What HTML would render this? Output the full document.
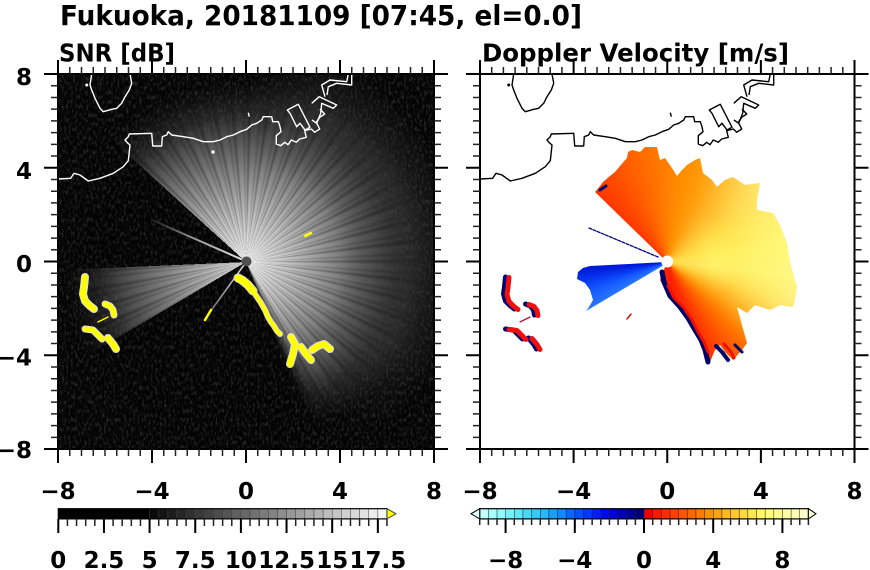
<!DOCTYPE html>
<html><head><meta charset="utf-8">
<style>
html,body{margin:0;padding:0;background:#fff;}
body{width:870px;height:570px;position:relative;overflow:hidden;}
.abs{position:absolute;left:0;top:0;}
.box{position:absolute;overflow:hidden;}
.lay{position:absolute;left:0;top:0;width:100%;height:100%;}
text{font-family:"DejaVu Sans","Liberation Sans",sans-serif;font-weight:bold;fill:#000;}
</style></head><body>

<svg class="abs" width="870" height="570">
<defs>
<filter id="nz" filterUnits="userSpaceOnUse" x="58" y="74" width="376" height="375" color-interpolation-filters="sRGB">
<feTurbulence type="fractalNoise" baseFrequency="0.45 0.22" numOctaves="2" seed="5"/>
<feColorMatrix type="matrix" values="0 0 0 0 0.32  0 0 0 0 0.32  0 0 0 0 0.32  1.3 0 0 0 -0.6"/>
</filter>
</defs>
<rect x="58" y="74" width="376" height="375" fill="#040404"/>
<rect x="58" y="74" width="376" height="375" filter="url(#nz)"/>
</svg>

<!-- SNR fan -->
<div class="box" style="left:58px;top:74px;width:376px;height:375px;">
 <div class="lay" style="background:
   radial-gradient(circle 185px at 188px 188px, rgb(250,250,250) 0px, rgb(235,235,235) 12px, rgb(205,205,205) 35px, rgb(165,165,165) 65px, rgb(125,125,125) 95px, rgba(95,95,95,.85) 125px, rgba(70,70,70,.5) 150px, rgba(55,55,55,.2) 170px, rgba(40,40,40,0) 185px);
   -webkit-mask-image:conic-gradient(from 0deg at 188px 188px, #000 0deg 149deg, rgba(0,0,0,.5) 155deg, transparent 159deg 239.5deg, rgba(0,0,0,.9) 239.5deg 267.5deg, transparent 267.5deg 312.3deg, #000 312.3deg 360deg);
   mask-image:conic-gradient(from 0deg at 188px 188px, #000 0deg 149deg, rgba(0,0,0,.5) 155deg, transparent 159deg 239.5deg, rgba(0,0,0,.9) 239.5deg 267.5deg, transparent 267.5deg 312.3deg, #000 312.3deg 360deg);"></div>
 <div class="lay" style="background:radial-gradient(circle 220px at 188px 188px, rgba(70,70,70,0) 95px, rgba(75,75,75,.35) 125px, rgba(65,65,65,.5) 165px, rgba(50,50,50,.3) 195px, rgba(40,40,40,0) 220px);
   -webkit-mask-image:conic-gradient(from 0deg at 188px 188px, transparent 0deg, #000 25deg 120deg, transparent 150deg 360deg);
   mask-image:conic-gradient(from 0deg at 188px 188px, transparent 0deg, #000 25deg 120deg, transparent 150deg 360deg);"></div>
 <div class="lay" style="background:repeating-conic-gradient(from 0deg at 188px 188px, rgba(0,0,0,0) 0deg, rgba(0,0,0,.28) 1.3deg, rgba(0,0,0,0) 2.6deg, rgba(0,0,0,0) 4.4deg, rgba(0,0,0,.16) 5.6deg, rgba(0,0,0,0) 6.8deg);
   -webkit-mask-image:radial-gradient(circle 190px at 188px 188px, #000 0px, #000 140px, transparent 190px);
   mask-image:radial-gradient(circle 190px at 188px 188px, #000 0px, #000 140px, transparent 190px);"></div>
</div>

<!-- Doppler field -->
<div class="box" style="left:480px;top:74px;width:375px;height:375px;">
 <div class="lay" style="background:conic-gradient(from 0deg at 187.25px 188px, #ff8000 0deg, #ff9000 12deg, #ffa010 25deg, #ffb828 38deg, #ffd040 52deg, #ffe450 66deg, #fff060 82deg, #fff068 96deg, #ffe050 106deg, #ffc030 116deg, #ff9c10 126deg, #ff7400 136deg, #ff5000 146deg, #ff3000 156deg, #ff2000 166deg, #ff2000 295deg, #ff3000 310deg, #ff4800 325deg, #ff6000 340deg, #ff7400 352deg, #ff8000 360deg);
  clip-path:polygon(187px 188px, 115px 118px, 120px 112px, 123px 108px, 130px 102px, 135px 98px, 140px 92px, 147px 84px, 148px 78px, 152px 76px, 160px 78px, 165px 73px, 177px 73px, 180px 86px, 185px 84px, 192px 94px, 197px 102px, 202px 96px, 207px 91px, 215px 86px, 220px 84px, 223px 99px, 232px 106px, 237px 113px, 245px 106px, 253px 103px, 265px 111px, 280px 109px, 277px 126px, 277px 136px, 293px 139px, 300px 151px, 307px 169px, 310px 188px, 317px 213px, 315px 226px, 313px 233px, 300px 231px, 290px 236px, 275px 231px, 267px 239px, 257px 233px, 262px 251px, 267px 269px, 262px 276px, 253px 286px, 245px 278px, 240px 271px, 235px 276px, 230px 288px, 228px 288px, 226px 271px, 220px 263px, 213px 253px, 203px 236px, 190px 223px, 180px 206px);"></div>
 <div class="lay" style="background:radial-gradient(circle 150px at 187.25px 188px, rgba(255,150,0,.3) 0px, rgba(255,200,60,0) 45px, rgba(255,255,140,0) 65px, rgba(255,255,150,.45) 115px, rgba(255,255,190,.6) 150px);
  -webkit-mask-image:conic-gradient(from 0deg at 187.25px 188px, transparent 0deg 20deg, #000 50deg 110deg, transparent 135deg 360deg);
  mask-image:conic-gradient(from 0deg at 187.25px 188px, transparent 0deg 20deg, #000 50deg 110deg, transparent 135deg 360deg);
  clip-path:polygon(187px 188px, 115px 118px, 120px 112px, 123px 108px, 130px 102px, 135px 98px, 140px 92px, 147px 84px, 148px 78px, 152px 76px, 160px 78px, 165px 73px, 177px 73px, 180px 86px, 185px 84px, 192px 94px, 197px 102px, 202px 96px, 207px 91px, 215px 86px, 220px 84px, 223px 99px, 232px 106px, 237px 113px, 245px 106px, 253px 103px, 265px 111px, 280px 109px, 277px 126px, 277px 136px, 293px 139px, 300px 151px, 307px 169px, 310px 188px, 317px 213px, 315px 226px, 313px 233px, 300px 231px, 290px 236px, 275px 231px, 267px 239px, 257px 233px, 262px 251px, 267px 269px, 262px 276px, 253px 286px, 245px 278px, 240px 271px, 235px 276px, 230px 288px, 228px 288px, 226px 271px, 220px 263px, 213px 253px, 203px 236px, 190px 223px, 180px 206px);"></div>
 <div class="lay" style="background:conic-gradient(from 0deg at 186px 189px, #2a78ff 0deg 238deg, #1458ff 250deg, #0838f0 258deg, #0018d8 266deg 360deg);
  clip-path:polygon(186px 188px, 110px 192px, 103px 194px, 98px 198px, 97px 205px, 105px 209px, 110px 216px, 113px 226px, 109px 233px, 106px 237px, 184px 191px);"></div>
</div>

<svg class="abs" width="870" height="570">
<defs>
 <linearGradient id="tl1" gradientUnits="userSpaceOnUse" x1="246.5" y1="261.5" x2="152" y2="220">
  <stop offset="0" stop-color="#e8e8e8"/><stop offset="0.6" stop-color="#909090"/><stop offset="1" stop-color="#606060" stop-opacity="0.3"/>
 </linearGradient>
 <linearGradient id="tl2" gradientUnits="userSpaceOnUse" x1="246.5" y1="261.5" x2="210" y2="312">
  <stop offset="0" stop-color="#e0e0e0"/><stop offset="1" stop-color="#707070"/>
 </linearGradient>
</defs>
<line x1="246.5" y1="261.5" x2="152" y2="220" stroke="url(#tl1)" stroke-width="2"/>
<line x1="246.5" y1="261.5" x2="210" y2="312" stroke="url(#tl2)" stroke-width="1.5"/>

<!-- SNR clutter -->
<g fill="none" stroke-linecap="round" stroke-linejoin="round">
 <g stroke="#dcdcdc">
  <path d="M238,278 L242,280 248,285 253,291" stroke-width="9"/>
  <path d="M253,291 L257,297 261,303 265,310 268,317 271,322 274,326 277,331 280,334" stroke-width="6"/>
  <path d="M291,337 L295,344 293,354 290,364" stroke-width="8"/>
  <path d="M301,347 L306,354 311,360" stroke-width="8"/>
  <path d="M312,350 L318,346 324,344 330,349" stroke-width="8"/>
  <path d="M85,277 L84,287 83,294 85,301 90,306 94,309" stroke-width="8"/>
  <path d="M105,304 L110,306 113,310 114,315" stroke-width="7"/>
  <path d="M85,329 L93,330 98,335 102,339" stroke-width="7"/>
  <path d="M108,338 L113,344 116,349" stroke-width="8"/>
 </g>
 <g stroke="#ffff00">
  <path d="M238,278 L242,280 248,285 253,291" stroke-width="7"/>
  <path d="M253,291 L257,297 261,303 265,310 268,317 271,322 274,326 277,331 280,334" stroke-width="4"/>
  <path d="M291,337 L295,344 293,354 290,364" stroke-width="6"/>
  <path d="M301,347 L306,354 311,360" stroke-width="6"/>
  <path d="M312,350 L318,346 324,344 330,349" stroke-width="6"/>
  <path d="M85,277 L84,287 83,294 85,301 90,306 94,309" stroke-width="6"/>
  <path d="M105,304 L110,306 113,310 114,315" stroke-width="5"/>
  <path d="M98,322 L108,317" stroke-width="1.5"/>
  <path d="M85,329 L93,330 98,335 102,339" stroke-width="5"/>
  <path d="M108,338 L113,344 116,349" stroke-width="6"/>
  <path d="M305,236 L311,233" stroke-width="2.5"/>
  <path d="M205,320 L211,310" stroke-width="2.5"/>
 </g>
</g>
<circle cx="246.5" cy="261.5" r="5" fill="#505050"/>

<!-- Doppler extras -->
<g fill="none" stroke-linecap="round" stroke-linejoin="round">
 <path d="M662,272 L664,282 670,296 680,307 688,318 695,330 701,340 705,350 708,362" stroke="#00006a" stroke-width="5"/>
 <path d="M716,346 L722,352 728,360" stroke="#00006a" stroke-width="4"/>
 <path d="M735,345 L742,352" stroke="#00006a" stroke-width="3"/>
 <path d="M600,190 L606,186" stroke="#00006a" stroke-width="3"/>
 <path d="M668,286 L674,298 684,308 692,320 698,332 704,342 708,352" stroke="#f01000" stroke-width="3"/>
 <path d="M724,344 L731,352 734,358" stroke="#f01000" stroke-width="3"/>
 <path d="M658,257 L589,228" stroke="#000080" stroke-width="1.3" stroke-dasharray="3 1.5"/>
 <path d="M627,319 L631,314" stroke="#e01010" stroke-width="1.5"/>
 <g stroke="#000070" stroke-width="5" transform="translate(-1.5,0)">
  <path d="M507,277 L506,287 505,294 507,301 512,306 516,309"/>
  <path d="M527,304 L532,306 535,310 536,315"/>
  <path d="M507,329 L515,330 520,335 524,339"/>
  <path d="M530,338 L535,344 538,349"/>
 </g>
 <g stroke="#f01010" stroke-width="5" transform="translate(2,0.5)">
  <path d="M507,277 L506,287 505,294 507,301 512,306 516,309"/>
  <path d="M527,304 L532,306 535,310 536,315"/>
  <path d="M507,329 L515,330 520,335 524,339"/>
  <path d="M530,338 L535,344 538,349"/>
 </g>
 <path d="M520,322 L530,317" stroke="#c01030" stroke-width="1.3"/>
</g>
<circle cx="667.25" cy="261.5" r="6" fill="#fff"/>

<!-- coastlines -->
<g fill="none" stroke-width="1.4" stroke-linejoin="round">
 <g stroke="#fff" transform="translate(58,74)">
  <path d="M33.7,0 L32,11 33.7,16 37,24.3 42,34.3 45.3,37.7 53.7,35.3 58.7,34.3 63.7,29.3 67,22.7 71.3,16 73.7,9.3 72,0"/>
  <path d="M0,105 L12.7,104.3 16,99.3 22,101 30.3,107 42,104.3 55.3,99.3 65.3,92.7 70.3,86.7 71.3,77.7 72,71 69.3,68.7 67,66 70.3,62.7 71.3,60 93.7,59.3 94.7,72 103.7,72 104.3,62.7 108.7,61 110.3,57.7 113.7,61 125.3,62.7 135.3,64.3 145.3,67.7 155.3,67.7 162,66 168.7,62.7 175.3,61 182,57.7 188.7,55.3 193.7,51 198.7,49.3 203.7,46 205.3,42.7 213.7,42.7 214.7,47.7 220.3,47.7 222,52.7 223,57.7 218.3,61.7 218.3,70 222.7,71.7 226.7,68.3 230,70.7 233.3,66 238.3,68.3 241.7,65 248.3,63.3 246.7,56.7 253.3,55 256.7,58.3 261.7,55 258.3,48.3 261.7,43.3 266.7,40 262,35"/>
  <path d="M229.3,36 L240.3,30.3 252,53.3 247,56 242,49.3 238.7,52.7 232,39.3 Z"/>
  <path d="M253.7,29.3 L261.3,22.7 278.7,31 275.3,34.3 263.7,29.3 262.7,39.3 258.7,49.3 254,46"/>
  <path d="M267,22.7 L263.7,11 272,6 288.7,7.7 290.3,0 293.7,0 293.7,11 278.7,9.3 270.3,12.7 269,21"/>
  <path d="M190.3,38.7 L191.3,42.7"/>
  <circle cx="28.7" cy="11" r="0.8" fill="#fff"/>
  <circle cx="155" cy="78" r="1" fill="#fff"/>
 </g>
 <g stroke="#000" transform="translate(480,74)">
  <path d="M33.7,0 L32,11 33.7,16 37,24.3 42,34.3 45.3,37.7 53.7,35.3 58.7,34.3 63.7,29.3 67,22.7 71.3,16 73.7,9.3 72,0"/>
  <path d="M0,105 L12.7,104.3 16,99.3 22,101 30.3,107 42,104.3 55.3,99.3 65.3,92.7 70.3,86.7 71.3,77.7 72,71 69.3,68.7 67,66 70.3,62.7 71.3,60 93.7,59.3 94.7,72 103.7,72 104.3,62.7 108.7,61 110.3,57.7 113.7,61 125.3,62.7 135.3,64.3 145.3,67.7 155.3,67.7 162,66 168.7,62.7 175.3,61 182,57.7 188.7,55.3 193.7,51 198.7,49.3 203.7,46 205.3,42.7 213.7,42.7 214.7,47.7 220.3,47.7 222,52.7 223,57.7 218.3,61.7 218.3,70 222.7,71.7 226.7,68.3 230,70.7 233.3,66 238.3,68.3 241.7,65 248.3,63.3 246.7,56.7 253.3,55 256.7,58.3 261.7,55 258.3,48.3 261.7,43.3 266.7,40 262,35"/>
  <path d="M229.3,36 L240.3,30.3 252,53.3 247,56 242,49.3 238.7,52.7 232,39.3 Z"/>
  <path d="M253.7,29.3 L261.3,22.7 278.7,31 275.3,34.3 263.7,29.3 262.7,39.3 258.7,49.3 254,46"/>
  <path d="M267,22.7 L263.7,11 272,6 288.7,7.7 290.3,0 293.7,0 293.7,11 278.7,9.3 270.3,12.7 269,21"/>
  <path d="M190.3,38.7 L191.3,42.7"/>
  <circle cx="28.7" cy="11" r="0.8" fill="#000"/>
 </g>
</g>

<!-- axes left -->
<g stroke="#000" fill="none">
 <rect x="58" y="74" width="376" height="375" stroke-width="2"/>
 <g stroke="#222" stroke-width="7">
  <line x1="57.25" y1="70.5" x2="435" y2="70.5" stroke-dasharray="1.5 10.25"/>
  <line x1="57.25" y1="452.5" x2="435" y2="452.5" stroke-dasharray="1.5 10.25"/>
  <line x1="54.5" y1="73.25" x2="54.5" y2="450" stroke-dasharray="1.5 10.22"/>
  <line x1="437.5" y1="73.25" x2="437.5" y2="450" stroke-dasharray="1.5 10.22"/>
 </g>
 <g stroke-width="14">
  <line x1="57" y1="67" x2="436" y2="67" stroke-dasharray="2 92"/>
  <line x1="57" y1="456" x2="436" y2="456" stroke-dasharray="2 92"/>
  <line x1="51" y1="73" x2="51" y2="451" stroke-dasharray="2 91.75"/>
  <line x1="441" y1="73" x2="441" y2="451" stroke-dasharray="2 91.75"/>
 </g>
</g>
<!-- axes right -->
<g stroke="#000" fill="none">
 <rect x="480" y="74" width="374.5" height="375" stroke-width="2"/>
 <g stroke="#222" stroke-width="7">
  <line x1="479.25" y1="70.5" x2="855.5" y2="70.5" stroke-dasharray="1.5 10.203"/>
  <line x1="479.25" y1="452.5" x2="855.5" y2="452.5" stroke-dasharray="1.5 10.203"/>
  <line x1="476.5" y1="73.25" x2="476.5" y2="450" stroke-dasharray="1.5 10.22"/>
  <line x1="858" y1="73.25" x2="858" y2="450" stroke-dasharray="1.5 10.22"/>
 </g>
 <g stroke-width="14">
  <line x1="479" y1="67" x2="856" y2="67" stroke-dasharray="2 91.625"/>
  <line x1="479" y1="456" x2="856" y2="456" stroke-dasharray="2 91.625"/>
  <line x1="473" y1="73" x2="473" y2="451" stroke-dasharray="2 91.75"/>
  <line x1="861.5" y1="73" x2="861.5" y2="451" stroke-dasharray="2 91.75"/>
 </g>
</g>

<!-- left colorbar -->
<g>
 <rect x="58.3" y="508.7" width="91.5" height="10.2" fill="#000"/>
 <g stroke="#444" stroke-width="0.5">
 <rect x="149.61" y="508.7" width="9.2" height="10.2" fill="#0a0a0a"/>
 <rect x="158.74" y="508.7" width="9.2" height="10.2" fill="#131313"/>
 <rect x="167.87" y="508.7" width="9.2" height="10.2" fill="#1d1d1d"/>
 <rect x="177.0" y="508.7" width="9.2" height="10.2" fill="#262626"/>
 <rect x="186.13" y="508.7" width="9.2" height="10.2" fill="#303030"/>
 <rect x="195.27" y="508.7" width="9.2" height="10.2" fill="#393939"/>
 <rect x="204.4" y="508.7" width="9.2" height="10.2" fill="#424242"/>
 <rect x="213.53" y="508.7" width="9.2" height="10.2" fill="#4c4c4c"/>
 <rect x="222.66" y="508.7" width="9.2" height="10.2" fill="#555555"/>
 <rect x="231.79" y="508.7" width="9.2" height="10.2" fill="#5f5f5f"/>
 <rect x="240.92" y="508.7" width="9.2" height="10.2" fill="#686868"/>
 <rect x="250.05" y="508.7" width="9.2" height="10.2" fill="#717171"/>
 <rect x="259.18" y="508.7" width="9.2" height="10.2" fill="#7b7b7b"/>
 <rect x="268.31" y="508.7" width="9.2" height="10.2" fill="#848484"/>
 <rect x="277.44" y="508.7" width="9.2" height="10.2" fill="#8e8e8e"/>
 <rect x="286.58" y="508.7" width="9.2" height="10.2" fill="#979797"/>
 <rect x="295.71" y="508.7" width="9.2" height="10.2" fill="#a0a0a0"/>
 <rect x="304.84" y="508.7" width="9.2" height="10.2" fill="#aaaaaa"/>
 <rect x="313.97" y="508.7" width="9.2" height="10.2" fill="#b3b3b3"/>
 <rect x="323.1" y="508.7" width="9.2" height="10.2" fill="#bdbdbd"/>
 <rect x="332.23" y="508.7" width="9.2" height="10.2" fill="#c6c6c6"/>
 <rect x="341.36" y="508.7" width="9.2" height="10.2" fill="#cfcfcf"/>
 <rect x="350.49" y="508.7" width="9.2" height="10.2" fill="#d9d9d9"/>
 <rect x="359.62" y="508.7" width="9.2" height="10.2" fill="#e2e2e2"/>
 <rect x="368.75" y="508.7" width="9.2" height="10.2" fill="#ececec"/>
 <rect x="377.88" y="508.7" width="9.12" height="10.2" fill="#f5f5f5"/>
 </g>
 <rect x="58.3" y="508.7" width="328.7" height="10.2" fill="none" stroke="#000" stroke-width="1.2"/>
 <polygon points="387,508.7 396,513.8 387,518.9" fill="#ffff00" stroke="#444" stroke-width="1"/>
 <line x1="57.55" y1="522.5" x2="388" y2="522.5" stroke="#222" stroke-width="7" stroke-dasharray="1.5 7.63"/>
 <line x1="57.3" y1="526" x2="380" y2="526" stroke="#000" stroke-width="14" stroke-dasharray="2 43.65"/>
</g>

<!-- right colorbar -->
<g>
 <g stroke="#222" stroke-width="0.5">
 <rect x="479.7" y="508.7" width="8.8" height="10.2" fill="#c8ffff"/>
 <rect x="488.35" y="508.7" width="8.8" height="10.2" fill="#a8ffff"/>
 <rect x="497.0" y="508.7" width="8.8" height="10.2" fill="#90f8ff"/>
 <rect x="505.65" y="508.7" width="8.8" height="10.2" fill="#78f0f8"/>
 <rect x="514.3" y="508.7" width="8.8" height="10.2" fill="#60e8f8"/>
 <rect x="522.95" y="508.7" width="8.8" height="10.2" fill="#48d8f8"/>
 <rect x="531.6" y="508.7" width="8.8" height="10.2" fill="#38c8f8"/>
 <rect x="540.25" y="508.7" width="8.8" height="10.2" fill="#28b8ff"/>
 <rect x="548.9" y="508.7" width="8.8" height="10.2" fill="#18a0ff"/>
 <rect x="557.55" y="508.7" width="8.8" height="10.2" fill="#1088ff"/>
 <rect x="566.2" y="508.7" width="8.8" height="10.2" fill="#0868ff"/>
 <rect x="574.85" y="508.7" width="8.8" height="10.2" fill="#0050ff"/>
 <rect x="583.5" y="508.7" width="8.8" height="10.2" fill="#0038ff"/>
 <rect x="592.15" y="508.7" width="8.8" height="10.2" fill="#0020ff"/>
 <rect x="600.8" y="508.7" width="8.8" height="10.2" fill="#0008f0"/>
 <rect x="609.45" y="508.7" width="8.8" height="10.2" fill="#0000d8"/>
 <rect x="618.1" y="508.7" width="8.8" height="10.2" fill="#0000b8"/>
 <rect x="626.75" y="508.7" width="8.8" height="10.2" fill="#000098"/>
 <rect x="635.4" y="508.7" width="8.8" height="10.2" fill="#000070"/>
 <rect x="644.05" y="508.7" width="8.8" height="10.2" fill="#f00000"/>
 <rect x="652.7" y="508.7" width="8.8" height="10.2" fill="#ff1800"/>
 <rect x="661.35" y="508.7" width="8.8" height="10.2" fill="#ff2c00"/>
 <rect x="670.0" y="508.7" width="8.8" height="10.2" fill="#ff4000"/>
 <rect x="678.65" y="508.7" width="8.8" height="10.2" fill="#ff5400"/>
 <rect x="687.3" y="508.7" width="8.8" height="10.2" fill="#ff6800"/>
 <rect x="695.95" y="508.7" width="8.8" height="10.2" fill="#ff7c00"/>
 <rect x="704.6" y="508.7" width="8.8" height="10.2" fill="#ff9000"/>
 <rect x="713.25" y="508.7" width="8.8" height="10.2" fill="#ffa410"/>
 <rect x="721.9" y="508.7" width="8.8" height="10.2" fill="#ffb820"/>
 <rect x="730.55" y="508.7" width="8.8" height="10.2" fill="#ffc830"/>
 <rect x="739.2" y="508.7" width="8.8" height="10.2" fill="#ffd840"/>
 <rect x="747.85" y="508.7" width="8.8" height="10.2" fill="#ffe850"/>
 <rect x="756.5" y="508.7" width="8.8" height="10.2" fill="#fff860"/>
 <rect x="765.15" y="508.7" width="8.8" height="10.2" fill="#ffff78"/>
 <rect x="773.8" y="508.7" width="8.8" height="10.2" fill="#ffff90"/>
 <rect x="782.45" y="508.7" width="8.8" height="10.2" fill="#ffffa4"/>
 <rect x="791.1" y="508.7" width="8.8" height="10.2" fill="#ffffb8"/>
 <rect x="799.75" y="508.7" width="8.65" height="10.2" fill="#ffffcc"/>
 </g>
 <rect x="479.7" y="508.7" width="328.7" height="10.2" fill="none" stroke="#000" stroke-width="1.2"/>
 <polygon points="479.7,508.7 471,513.8 479.7,518.9" fill="#e0ffff" stroke="#000" stroke-width="1"/>
 <polygon points="808.4,508.7 816,513.8 808.4,518.9" fill="#ffffe0" stroke="#000" stroke-width="1"/>
 <line x1="478.95" y1="522" x2="809.5" y2="522" stroke="#222" stroke-width="6" stroke-dasharray="1.5 7.15"/>
 <line x1="504.6" y1="526" x2="784" y2="526" stroke="#000" stroke-width="14" stroke-dasharray="2 67.2"/>
</g>

<!-- text -->
<text x="60" y="25" font-size="28" textLength="522" lengthAdjust="spacingAndGlyphs">Fukuoka, 20181109 [07:45, el=0.0]</text>
<text x="59" y="61.5" font-size="24.5" textLength="116" lengthAdjust="spacingAndGlyphs">SNR [dB]</text>
<text x="482" y="61.5" font-size="24.5" textLength="307" lengthAdjust="spacingAndGlyphs">Doppler Velocity [m/s]</text>

<g font-size="23" text-anchor="end">
 <text x="32" y="85">8</text>
 <text x="32" y="179">4</text>
 <text x="32" y="272">0</text>
 <text x="32" y="365.5">−4</text>
 <text x="32" y="458">−8</text>
</g>
<g font-size="23" text-anchor="middle">
 <text x="58" y="499">−8</text>
 <text x="152" y="499">−4</text>
 <text x="246" y="499">0</text>
 <text x="340" y="499">4</text>
 <text x="434" y="499">8</text>
 <text x="480" y="499">−8</text>
 <text x="573.6" y="499">−4</text>
 <text x="667.25" y="499">0</text>
 <text x="760.9" y="499">4</text>
 <text x="854.5" y="499">8</text>

 <text x="58.3" y="568">0</text>
 <text x="103.95" y="568">2.5</text>
 <text x="149.6" y="568">5</text>
 <text x="195.3" y="568">7.5</text>
 <text x="240.9" y="568">10</text>
 <text x="286.6" y="568">12.5</text>
 <text x="332.2" y="568">15</text>
 <text x="377.9" y="568">17.5</text>

 <text x="505.6" y="568">−8</text>
 <text x="574.8" y="568">−4</text>
 <text x="644" y="568">0</text>
 <text x="713.2" y="568">4</text>
 <text x="782.4" y="568">8</text>
</g>
</svg>
</body></html>
